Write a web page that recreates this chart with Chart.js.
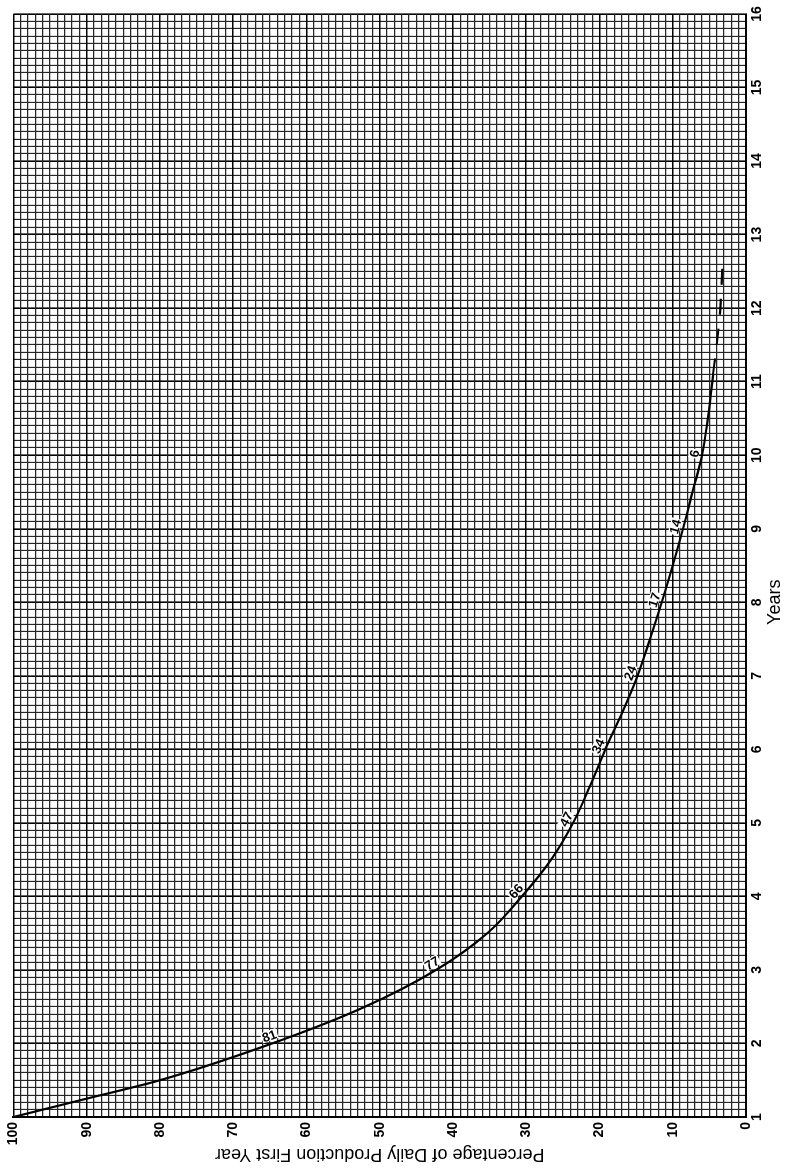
<!DOCTYPE html>
<html><head><meta charset="utf-8">
<script src="https://cdn.jsdelivr.net/npm/chart.js@4.4.1/dist/chart.umd.min.js"></script>
<style>
html,body{margin:0;padding:0;background:#fff;overflow:hidden;}
#wrap{position:relative;width:791px;height:1172px;overflow:hidden;background:#fff;}
#c{position:absolute;left:0;top:0;transform-origin:0 0;transform:translate(0,1172px) rotate(-90deg);}
</style></head><body>
<div id="wrap"><canvas id="c" width="1172" height="791"></canvas></div>
<script>
// ---- data ----
const years   = [1, 1.25, 1.5, 2, 2.5, 3, 3.5, 4, 4.5, 5, 5.5, 6, 6.5, 7, 7.5, 8, 8.5, 9, 9.5, 10, 10.5, 11, 11.1];
const percent = [100, 90, 80, 64.7, 52, 42.3, 35.3, 30.6, 26.6, 23.6, 21.3, 19.2, 16.9, 14.8, 13.1, 11.5, 10.0, 8.6, 7.3, 6.0, 5.2, 4.6, 4.5];
const dashYears   = [11.1, 11.5, 12, 12.6];
const dashPercent = [4.5, 4.0, 3.5, 3.2];
const annotYears  = [2, 3, 4, 5, 6, 7, 8, 9, 10];
const annotLabels = ['81', '77', '66', '47', '34', '24', '17', '14', '6'];
const yearTicks = [1,2,3,4,5,6,7,8,9,10,11,12,13,14,15,16];
const pctTicks  = [0,10,20,30,40,50,60,70,80,90,100];
const xTitle = 'Years';
const yTitle = 'Percentage of Daily Production First Year';

const isInt = v => Math.abs(v - Math.round(v)) < 1e-6;
const isYearMajor = v => isInt(v) && yearTicks.includes(Math.round(v));
const isPctMajor = v => isInt(v) && pctTicks.includes(Math.round(v));
const FONT = '"Liberation Sans", Arial, Helvetica, sans-serif';

const labelPlugin = {
  id: 'curveLabels',
  afterDatasetsDraw(chart) {
    const {ctx, scales: {x, y}} = chart;
    ctx.save();
    ctx.font = 'bold 13px ' + FONT;
    ctx.textAlign = 'center';
    ctx.textBaseline = 'alphabetic';
    annotYears.forEach((yr, i) => {
      const k = years.indexOf(yr);
      const px = x.getPixelForValue(yr), py = y.getPixelForValue(percent[k]);
      const ax = x.getPixelForValue(years[k - 1]), ay = y.getPixelForValue(percent[k - 1]);
      const bx = x.getPixelForValue(years[k + 1]), by = y.getPixelForValue(percent[k + 1]);
      const ang = Math.atan2(by - ay, bx - ax);
      ctx.save();
      ctx.translate(px, py);
      ctx.rotate(ang);
      const w = ctx.measureText(annotLabels[i]).width;
      ctx.fillStyle = '#ffffff';
      ctx.fillRect(-w / 2 - 1, -13.5, w + 2, 10.5);
      ctx.fillStyle = '#000000';
      ctx.fillText(annotLabels[i], 0, -3.5);
      ctx.restore();
    });
    ctx.fillStyle = '#000';
    ctx.font = '18px ' + FONT;
    ctx.textBaseline = 'middle';
    ctx.textAlign = 'center';
    ctx.fillText(xTitle, x.getPixelForValue(8), x.bottom - 16);
    ctx.restore();
  }
};

new Chart(document.getElementById('c'), {
  type: 'line',
  data: {
    datasets: [
      {
        data: years.map((v, i) => ({x: v, y: percent[i]})),
        borderColor: '#000', borderWidth: 2.2, pointRadius: 0,
        cubicInterpolationMode: 'monotone', fill: false
      },
      {
        data: dashYears.map((v, i) => ({x: v, y: dashPercent[i]})),
        borderColor: '#000', borderWidth: 2.2, pointRadius: 0,
        borderDash: [16, 14], cubicInterpolationMode: 'monotone', fill: false
      }
    ]
  },
  options: {
    responsive: false,
    animation: false,
    devicePixelRatio: 1,
    layout: {padding: {top: 11, right: 14, left: 0, bottom: 0}},
    plugins: {legend: {display: false}, tooltip: {enabled: false}},
    scales: {
      x: {
        type: 'linear', position: 'bottom', min: 1, max: 16,
        afterFit: s => { s.height = 45; },
        border: {display: true, color: '#000', width: 2},
        grid: {
          drawTicks: false,
          color: c => isYearMajor(c.tick.value) ? '#000' : '#262626',
          lineWidth: c => isYearMajor(c.tick.value) ? 1.6 : 1.15
        },
        ticks: {
          stepSize: 0.1, autoSkip: false, maxRotation: 0, minRotation: 0, padding: 3,
          color: '#000', font: {family: FONT, size: 14, weight: 'bold'},
          callback: v => isYearMajor(v) ? String(Math.round(v)) : ''
        }
      },
      y: {
        type: 'linear', position: 'left', min: 0, max: 100,
        afterFit: s => { s.width = 55; },
        border: {display: true, color: '#000', width: 2},
        grid: {
          drawTicks: false,
          color: c => isPctMajor(c.tick.value) ? '#000' : '#262626',
          lineWidth: c => isPctMajor(c.tick.value) ? 1.6 : 1.15
        },
        ticks: {
          stepSize: 1, autoSkip: false, padding: 5,
          color: '#000', font: {family: FONT, size: 14, weight: 'bold'},
          callback: v => isPctMajor(v) ? String(Math.round(v)) : ''
        },
        title: {
          display: true, text: yTitle, color: '#000',
          font: {family: FONT, size: 18}, padding: {top: 7, bottom: 0}
        }
      }
    }
  },
  plugins: [labelPlugin]
});
</script>
</body></html>
